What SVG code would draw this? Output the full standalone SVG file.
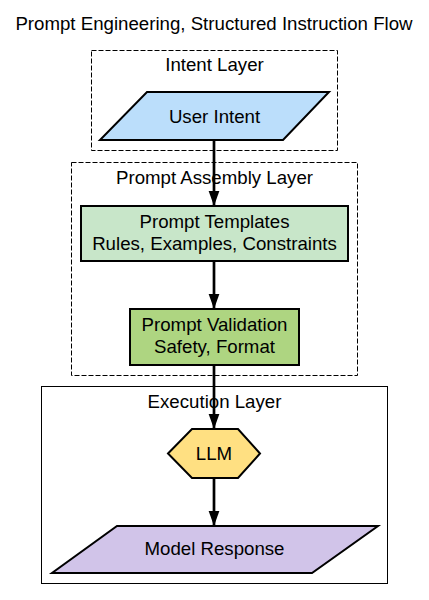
<svg xmlns="http://www.w3.org/2000/svg" width="429" height="600" viewBox="0 0 429 600">
<defs>
<style>
text{font-family:"Liberation Sans",Arial,sans-serif;font-size:18.67px;fill:#000;text-anchor:middle}
.cl{fill:none;stroke:#000;stroke-width:1}
.dash{stroke-dasharray:5,2}
.nd{stroke:#000;stroke-width:2}
.ed{stroke:#000;stroke-width:2.7;fill:none}
</style>
<marker id="ah" markerUnits="userSpaceOnUse" markerWidth="15" markerHeight="21" refX="21" refY="7.5" viewBox="0 0 21 15" orient="auto">
<path d="M0,0 L21,7.5 L0,15 Z" fill="#000"/>
</marker>
</defs>
<rect width="429" height="600" fill="#fff"/>
<text x="214" y="29.5">Prompt Engineering, Structured Instruction Flow</text>

<g id="cluster-intent">
<rect class="cl dash" x="91.5" y="50.5" width="246" height="100"/>
<text x="214.5" y="71">Intent Layer</text>
</g>
<g id="cluster-assembly">
<rect class="cl dash" x="71.5" y="162.5" width="286" height="213"/>
<text x="214.5" y="184">Prompt Assembly Layer</text>
</g>
<g id="cluster-execution">
<rect class="cl" x="41.5" y="386.5" width="346" height="197"/>
<text x="214.5" y="408">Execution Layer</text>
</g>

<g id="edges">
<line class="ed" x1="214" y1="140" x2="214" y2="206" marker-end="url(#ah)"/>
<line class="ed" x1="214" y1="261" x2="214" y2="309" marker-end="url(#ah)"/>
<line class="ed" x1="214" y1="365" x2="214" y2="429" marker-end="url(#ah)"/>
<line class="ed" x1="214" y1="478" x2="214" y2="526" marker-end="url(#ah)"/>
</g>

<g id="user-intent">
<polygon class="nd" fill="#bbdefb" points="147,92 329,92 283,140 100,140"/>
<text x="214.5" y="123">User Intent</text>
</g>
<g id="prompt-templates">
<rect class="nd" fill="#c8e6c9" x="81" y="206" width="267" height="55"/>
<text x="214.5" y="228">Prompt Templates</text>
<text x="214.5" y="250">Rules, Examples, Constraints</text>
</g>
<g id="prompt-validation">
<rect class="nd" fill="#aed581" x="130" y="309" width="169" height="56"/>
<text x="214.5" y="331">Prompt Validation</text>
<text x="214.5" y="353.3">Safety, Format</text>
</g>
<g id="llm">
<polygon class="nd" fill="#ffe082" points="168,453.5 192,429 238,429 260,453.5 238,478 192,478"/>
<text x="214" y="459.5">LLM</text>
</g>
<g id="model-response">
<polygon class="nd" fill="#d1c4e9" points="117,526 378,526 312,573 52,573"/>
<text x="214.5" y="555">Model Response</text>
</g>
</svg>
